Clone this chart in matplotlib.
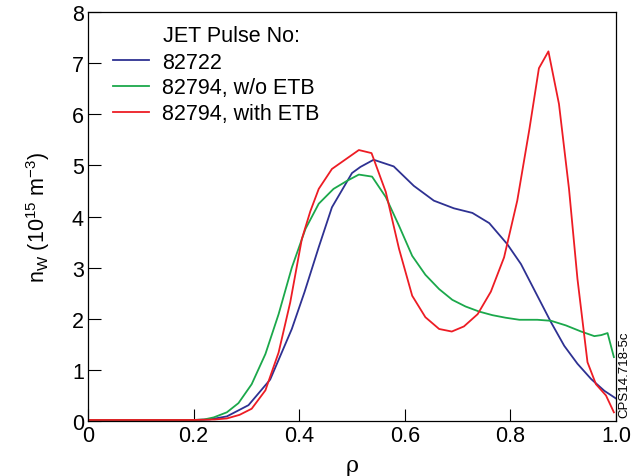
import matplotlib
matplotlib.use("Agg")
import matplotlib.pyplot as plt
from matplotlib.lines import Line2D

plt.rcParams['font.family'] = ['Liberation Sans', 'DejaVu Sans']

# 82722
blue_x = [0.0, 0.1, 0.2, 0.23, 0.263, 0.304, 0.345, 0.386, 0.41, 0.437, 0.462, 0.50, 0.516,
          0.541, 0.579, 0.617, 0.655, 0.693, 0.728, 0.76, 0.794, 0.82, 0.851, 0.877,
          0.902, 0.927, 0.953, 0.978, 1.0]
blue_y = [0.02, 0.02, 0.02, 0.03, 0.09, 0.31, 0.81, 1.8, 2.52, 3.4, 4.18, 4.85, 4.97,
          5.11, 4.98, 4.6, 4.31, 4.16, 4.07, 3.87, 3.46, 3.07, 2.45, 1.93,
          1.47, 1.12, 0.82, 0.59, 0.44]

# 82794, w/o ETB
green_x = [0.0, 0.1, 0.2, 0.22, 0.238, 0.263, 0.285, 0.31, 0.336, 0.361, 0.386, 0.412, 0.437,
           0.465, 0.491, 0.513, 0.538, 0.564, 0.589, 0.614, 0.639, 0.665, 0.69, 0.715,
           0.741, 0.766, 0.791, 0.817, 0.851, 0.877, 0.905, 0.934, 0.959, 0.972, 0.984, 0.996]
green_y = [0.02, 0.02, 0.02, 0.03, 0.07, 0.17, 0.35, 0.72, 1.31, 2.09, 3.0, 3.76, 4.25,
           4.54, 4.70, 4.82, 4.78, 4.38, 3.82, 3.23, 2.86, 2.58, 2.37, 2.24,
           2.14, 2.07, 2.02, 1.98, 1.98, 1.96, 1.87, 1.75, 1.66, 1.68, 1.72, 1.25]

# 82794, with ETB
red_x = [0.0, 0.1, 0.2, 0.24, 0.263, 0.287, 0.31, 0.336, 0.361, 0.383, 0.405, 0.421, 0.437,
         0.462, 0.513, 0.537, 0.564, 0.589, 0.614, 0.639, 0.665, 0.689, 0.712, 0.738,
         0.763, 0.788, 0.813, 0.836, 0.854, 0.872, 0.892, 0.911, 0.927, 0.946, 0.962,
         0.981, 0.996]
red_y = [0.02, 0.02, 0.02, 0.03, 0.05, 0.12, 0.24, 0.6, 1.34, 2.32, 3.56, 4.1, 4.54,
         4.93, 5.30, 5.24, 4.48, 3.37, 2.45, 2.03, 1.80, 1.75, 1.85, 2.09,
         2.53, 3.2, 4.31, 5.71, 6.90, 7.23, 6.2, 4.54, 2.78, 1.15, 0.72,
         0.50, 0.17]

labels = ["82722", "82794, w/o ETB", "82794, with ETB"]
colors = ["#2E3192", "#1BA84B", "#ED1C24"]
xticks = [0, 0.2, 0.4, 0.6, 0.8, 1.0]
xticklabels = ["0", "0.2", "0.4", "0.6", "0.8", "1.0"]
yticks = [0, 1, 2, 3, 4, 5, 6, 7, 8]

FS = 15.5

fig = plt.figure(figsize=(6.44, 4.77), dpi=100)
ax = fig.add_axes([88/644, 55/477, 528/644, 409/477])

series = [(blue_x, blue_y), (green_x, green_y), (red_x, red_y)]
for (xs, ys), c, lab in zip(series, colors, labels):
    ax.plot(xs, ys, color=c, lw=1.3, label=lab)

ax.set_xlim(0, 1.0)
ax.set_ylim(0, 8)
ax.set_xticks(xticks)
ax.set_xticklabels(xticklabels)
ax.set_yticks(yticks)
ax.tick_params(direction='in', length=9, width=0.8, labelsize=FS, pad=3,
               top=False, right=False)
for s in ax.spines.values():
    s.set_linewidth(0.9)

ax.set_xlabel("ρ", fontsize=16, labelpad=6, family=['DejaVu Serif'])
ax.set_ylabel("n$_{\\mathregular{W}}$ (10$^{\\mathregular{15}}$ m$^{\\mathregular{-3}}$)",
              fontsize=FS, labelpad=14)

handles = [Line2D([], [], color=c, lw=1.3) for c in colors]
leg = ax.legend(handles, labels, loc='upper left', bbox_to_anchor=(0.047, 0.903),
                frameon=False, fontsize=FS, handlelength=1.7, handletextpad=0.6,
                labelspacing=0.22, borderaxespad=0, borderpad=0)
ax.text(0.142, 0.929, "JET Pulse No:", transform=ax.transAxes, fontsize=FS,
        va='baseline', ha='left')

fig.text(624/644, 102/477, "CPS14.718-5c", rotation=90, fontsize=9.5,
         ha='center', va='center')

fig.savefig("out.png", dpi=100)
